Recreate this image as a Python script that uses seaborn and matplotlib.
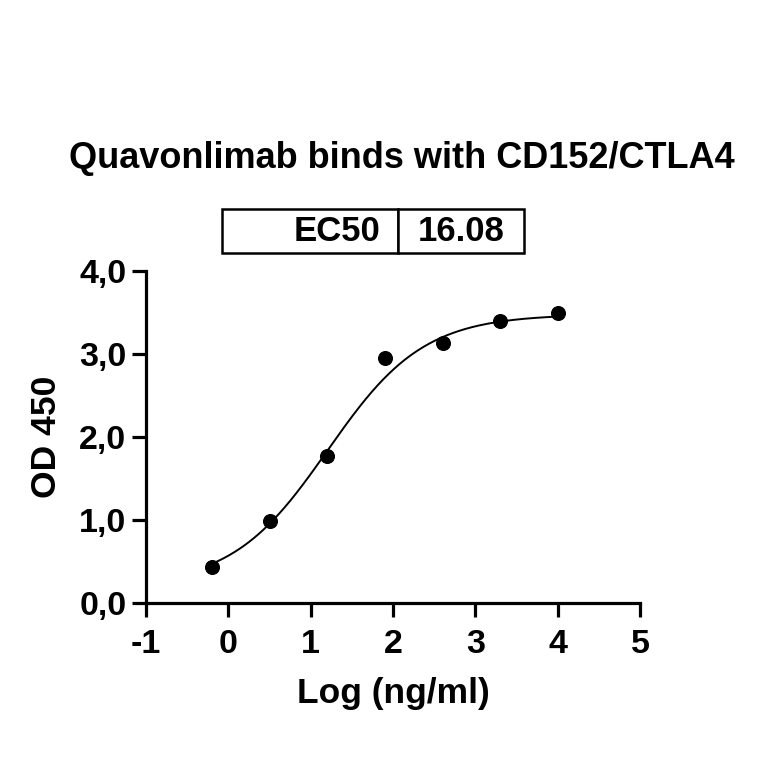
import numpy as np
import pandas as pd
import seaborn as sns
import matplotlib.pyplot as plt

# measured points (log conc, OD450)
log_conc = [-0.2, 0.5, 1.2, 1.9, 2.6, 3.3, 4.0]
od450 = [0.43, 0.99, 1.77, 2.95, 3.14, 3.40, 3.50]

# 4PL fit parameters
fit_bottom = 0.2
fit_top = 3.48
fit_logec50 = 1.206
fit_hill = 0.745
ec50_text = "16.08"

sns.set_theme(style="ticks")
plt.rcParams['font.family'] = ['Liberation Sans', 'DejaVu Sans']
plt.rcParams['font.weight'] = 'bold'
plt.rcParams['text.color'] = 'black'
plt.rcParams['axes.labelcolor'] = 'black'
plt.rcParams['axes.unicode_minus'] = False

df = pd.DataFrame({"x": log_conc, "y": od450})
xs = np.linspace(min(log_conc), max(log_conc), 300)
curve = pd.DataFrame({"x": xs,
                      "y": fit_bottom + (fit_top - fit_bottom) / (1 + 10 ** ((fit_logec50 - xs) * fit_hill))})

fig = plt.figure(figsize=(7.64, 7.64), dpi=100)
ax = fig.add_axes([0.191, 0.211, 0.647, 0.434])

sns.lineplot(data=curve, x="x", y="y", ax=ax, color="black", linewidth=1.4)
sns.scatterplot(data=df, x="x", y="y", ax=ax, color="black", s=100, edgecolor="black", zorder=3, clip_on=False)

ax.set_xlim(-1, 5)
ax.set_ylim(0, 4)
ax.set_xticks(range(-1, 6))
ax.set_yticks([0, 1, 2, 3, 4])
ax.set_yticklabels([f"{v:.1f}".replace(".", ",") for v in [0, 1, 2, 3, 4]])
ax.tick_params(labelsize=24.5, width=2.3, length=10, color="black", labelcolor="black")
ax.tick_params(axis="x", pad=9)
ax.tick_params(axis="y", pad=4)
for lab in ax.get_xticklabels() + ax.get_yticklabels():
    lab.set_fontweight("bold")
for s in ["top", "right"]:
    ax.spines[s].set_visible(False)
for s in ["left", "bottom"]:
    ax.spines[s].set_linewidth(2.3)
    ax.spines[s].set_color("black")

ax.set_xlabel("Log (ng/ml)", fontsize=25.5, fontweight="bold", labelpad=12)
ax.set_ylabel("OD 450", fontsize=25.5, fontweight="bold", labelpad=12)
fig.text(0.526, 0.793, "Quavonlimab binds with CD152/CTLA4", ha="center", va="center",
         fontsize=26, fontweight="bold")

tbl = ax.table(cellText=[["EC50", ec50_text]], colWidths=[0.356, 0.255],
               bbox=[0.154, 1.054, 0.611, 0.133])
tbl.auto_set_font_size(False)
for (r, c), cell in tbl.get_celld().items():
    cell.set_linewidth(1.8)
    cell.set_edgecolor("black")
    cell.get_text().set_fontsize(25)
    cell.get_text().set_fontweight("bold")
    if c == 0:
        cell._loc = "right"
        cell.PAD = 0.1
        cell.get_text().set_ha("right")
    else:
        cell._loc = "center"
        cell.get_text().set_ha("center")

fig.savefig("out.png", dpi=100, facecolor="white")
